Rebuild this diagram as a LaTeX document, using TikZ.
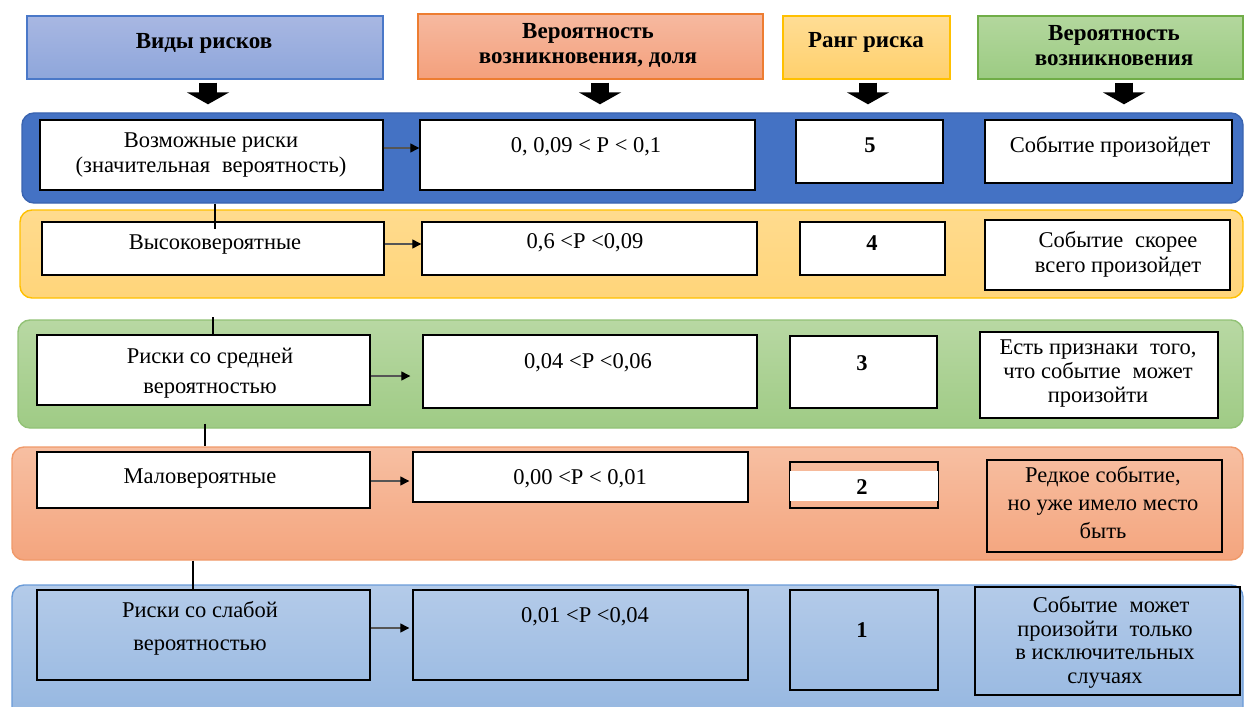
\documentclass[tikz,border=0pt]{standalone}
\usepackage{fontspec}
\setmainfont{Liberation Serif}
\usetikzlibrary{arrows.meta,calc}
\definecolor{hAtop}{HTML}{A8B7E2}\definecolor{hAbot}{HTML}{8EA6DB}\definecolor{hAdr}{HTML}{4A78C8}
\definecolor{hBtop}{HTML}{F6B9A0}\definecolor{hBbot}{HTML}{F4A07C}\definecolor{hBdr}{HTML}{ED7D31}
\definecolor{hCtop}{HTML}{FFDD95}\definecolor{hCbot}{HTML}{FFD06C}\definecolor{hCdr}{HTML}{FFC000}
\definecolor{hDtop}{HTML}{B3D79D}\definecolor{hDbot}{HTML}{9CCB83}\definecolor{hDdr}{HTML}{70AD47}
\definecolor{bOne}{HTML}{4472C4}\definecolor{bOnedr}{HTML}{3A64B0}
\definecolor{bTwotop}{HTML}{FFDB8E}\definecolor{bTwobot}{HTML}{FFD57A}\definecolor{bTwodr}{HTML}{FFC000}
\definecolor{bThrtop}{HTML}{B8D8A3}\definecolor{bThrbot}{HTML}{9FCB85}\definecolor{bThrdr}{HTML}{92C276}
\definecolor{bFoutop}{HTML}{F7BFA2}\definecolor{bFoubot}{HTML}{F4A57E}\definecolor{bFoudr}{HTML}{F09A6A}
\definecolor{bFivtop}{HTML}{B4CBE9}\definecolor{bFivbot}{HTML}{94B6E0}\definecolor{bFivdr}{HTML}{6A9BD8}
\definecolor{thinarr}{HTML}{555555}
\begin{document}
\begin{tikzpicture}[x=1pt,y=-1pt,
  hdr/.style={draw, line width=1.2pt, inner sep=0pt, align=center,
    font=\bfseries\fontsize{23}{25}\selectfont},
  band/.style={draw, rounded corners=12pt, line width=1.4pt, inner sep=0pt},
  box/.style={draw=black, line width=1.4pt, fill=white, inner sep=0pt},
  clearbox/.style={draw=black, line width=1.4pt, inner sep=0pt},
  txt/.style={inner sep=0pt, align=center, font=\fontsize{22.5}{25}\selectfont},
  num/.style={inner sep=0pt, font=\bfseries\fontsize{22.5}{25}\selectfont},
  blockarrow/.style={black, line width=18pt, -{Triangle[width=42pt,length=12pt]}, shorten >=8pt},
  thinarrow/.style={thinarr, line width=1.3pt, -{Triangle[width=9pt,length=9pt,fill=black,color=black]}},
  vline/.style={black, line width=1.4pt}
]
\useasboundingbox (0,0) rectangle (1246,706);
\clip (0,0) rectangle (1246,706);

% headers
\node[hdr, top color=hAtop, bottom color=hAbot, draw=hAdr, minimum width=356pt, minimum height=63pt] (h1) at (205,47.5) {};
\node[hdr, top color=hBtop, bottom color=hBbot, draw=hBdr, minimum width=345pt, minimum height=65pt] (h2) at (590.5,46.5) {};
\node[hdr, top color=hCtop, bottom color=hCbot, draw=hCdr, minimum width=167pt, minimum height=63pt] (h3) at (866.5,47.5) {};
\node[hdr, top color=hDtop, bottom color=hDbot, draw=hDdr, minimum width=265pt, minimum height=63pt] (h4) at (1110.5,47.5) {};
\node[hdr, draw=none] (h1t) at (204,43) {Виды рисков};
\node[hdr, draw=none] (h2t) at (588,45) {Вероятность\\возникновения, доля};
\node[hdr, draw=none] (h3t) at (866,42) {Ранг риска};
\node[hdr, draw=none] (h4t) at (1114,46) {Вероятность\\возникновения};

% bands
\node[band, fill=bOne, draw=bOnedr, minimum width=1221pt, minimum height=90pt] (r1) at (632.5,158) {};
\node[band, top color=bTwotop, bottom color=bTwobot, draw=bTwodr, minimum width=1223pt, minimum height=88pt] (r2) at (631.5,254) {};
\node[band, top color=bThrtop, bottom color=bThrbot, draw=bThrdr, minimum width=1225pt, minimum height=108pt] (r3) at (630.5,374) {};
\node[band, top color=bFoutop, bottom color=bFoubot, draw=bFoudr, minimum width=1231pt, minimum height=113pt] (r4) at (627.5,503.5) {};
\node[band, top color=bFivtop, bottom color=bFivbot, draw=bFivdr, minimum width=1231pt, minimum height=140pt] (r5) at (627.5,655) {};

% block arrows
\draw[blockarrow] ([xshift=3pt,yshift=-3pt]h1.south) -- ([xshift=3pt]h1.south |- r1.north);
\draw[blockarrow] ([xshift=9.5pt,yshift=-3pt]h2.south) -- ([xshift=9.5pt]h2.south |- r1.north);
\draw[blockarrow] ([xshift=1.5pt,yshift=-3pt]h3.south) -- ([xshift=1.5pt]h3.south |- r1.north);
\draw[blockarrow] ([xshift=13.5pt,yshift=-3pt]h4.south) -- ([xshift=13.5pt]h4.south |- r1.north);

% row 1
\node[box, minimum width=343pt, minimum height=70pt] (a1) at (211.5,155) {};
\node[box, minimum width=335pt, minimum height=70pt] (b1) at (587.5,155) {};
\node[box, minimum width=147pt, minimum height=63pt] (c1) at (869.5,151.5) {};
\node[box, minimum width=247pt, minimum height=63pt] (d1) at (1108.5,151.5) {};
\node[txt] (a1t) at (211,155.5) {Возможные риски\\(значительная\; вероятность)};
\node[txt] (b1t) at (586,147) {0, 0,09 < P < 0,1};
\node[num] (c1t) at (870,145) {5};
\node[txt] (d1t) at (1110,147) {Событие произойдет};

% row 2
\node[box, minimum width=342pt, minimum height=53pt] (a2) at (213,248.5) {};
\node[box, minimum width=335pt, minimum height=53pt] (b2) at (589.5,248.5) {};
\node[box, minimum width=145pt, minimum height=53pt] (c2) at (872.5,248.5) {};
\node[box, minimum width=245pt, minimum height=70pt] (d2) at (1107.5,255) {};
\node[txt] (a2t) at (215,245) {Высоковероятные};
\node[txt] (b2t) at (585,243) {0,6 <P <0,09};
\node[num] (c2t) at (872,243) {4};
\node[txt] (d2t) at (1118,254.5) {Событие\; скорее\\всего произойдет};

% row 3
\node[box, minimum width=333pt, minimum height=70pt] (a3) at (203.5,370) {};
\node[box, minimum width=334pt, minimum height=73pt] (b3) at (590,371.5) {};
\node[box, minimum width=147pt, minimum height=72pt] (c3) at (863.5,372) {};
\node[box, minimum width=238pt, minimum height=86pt] (d3) at (1099,375) {};
\node[txt, font=\fontsize{22.5}{30}\selectfont] (a3t) at (210,373) {Риски со средней\\вероятностью};
\node[txt] (b3t) at (588,363) {0,04 <P <0,06};
\node[num] (c3t) at (862,363) {3};
\node[txt, font=\fontsize{22.5}{24}\selectfont] (d3t) at (1098,374) {Есть признаки\; того,\\что событие\; может\\произойти};

% row 4
\node[box, minimum width=333pt, minimum height=56pt] (a4) at (203.5,480) {};
\node[box, minimum width=335pt, minimum height=50pt] (b4) at (580.5,477) {};
\node[clearbox, minimum width=148pt, minimum height=46pt] (c4) at (864,485) {};
\fill[white] ([xshift=0.7pt,yshift=-10pt]c4.north west) rectangle ([xshift=-0.7pt,yshift=8pt]c4.south east);
\node[clearbox, minimum width=235pt, minimum height=92pt] (d4) at (1104.5,506) {};
\node[txt] (a4t) at (200,479) {Маловероятные};
\node[txt] (b4t) at (580,479) {0,00 <P < 0,01};
\node[num] (c4t) at (862,487) {2};
\node[txt, font=\fontsize{22.5}{28}\selectfont] (d4t) at (1103,503) {Редкое событие,\\но уже имело место\\быть};

% row 5
\node[clearbox, minimum width=333pt, minimum height=90pt] (a5) at (203.5,635) {};
\node[clearbox, minimum width=335pt, minimum height=90pt] (b5) at (580.5,635) {};
\node[clearbox, minimum width=148pt, minimum height=100pt] (c5) at (864,640) {};
\node[clearbox, minimum width=265pt, minimum height=108pt] (d5) at (1107.5,641) {};
\node[txt, font=\fontsize{22.5}{33}\selectfont] (a5t) at (200,628.5) {Риски со слабой\\вероятностью};
\node[txt] (b5t) at (585,617) {0,01 <P <0,04};
\node[num] (c5t) at (862,630) {1};
\node[txt, font=\fontsize{22.5}{23.7}\selectfont] (d5t) at (1105,642.5) {\;\;Событие\; может\\произойти\; только\\в исключительных\\случаях};

% thin arrows
\draw[thinarrow] ([yshift=7pt]a1.east) -- ([yshift=7pt]a1.east -| b1.west);
\draw[thinarrow] ([yshift=4.5pt]a2.east) -- ([yshift=4.5pt]a2.east -| b2.west);
\draw[thinarrow, shorten >=12pt] ([yshift=-6pt]a3.east) -- ([yshift=-6pt]a3.east -| b3.west);
\draw[thinarrow, shorten >=3pt] ([yshift=-1pt]a4.east) -- ([yshift=-1pt]a4.east -| b4.west);
\draw[thinarrow, shorten >=3pt] ([yshift=7pt]a5.east) -- ([yshift=7pt]a5.east -| b5.west);

% vertical connectors
\draw[vline] ([xshift=2pt]a2.north |- r1.south) -- ([xshift=2pt,yshift=-8pt]a2.north);
\draw[vline] ([xshift=9.5pt,yshift=2pt]a3.north |- r3.north) -- ([xshift=9.5pt]a3.north);
\draw[vline] ([xshift=1.5pt,yshift=5pt]a3.south |- r3.south) -- ([xshift=1.5pt]a3.south |- r4.north);
\draw[vline] ([xshift=-10.5pt]a5.north |- r4.south) -- ([xshift=-10.5pt]a5.north);
\end{tikzpicture}
\end{document}
